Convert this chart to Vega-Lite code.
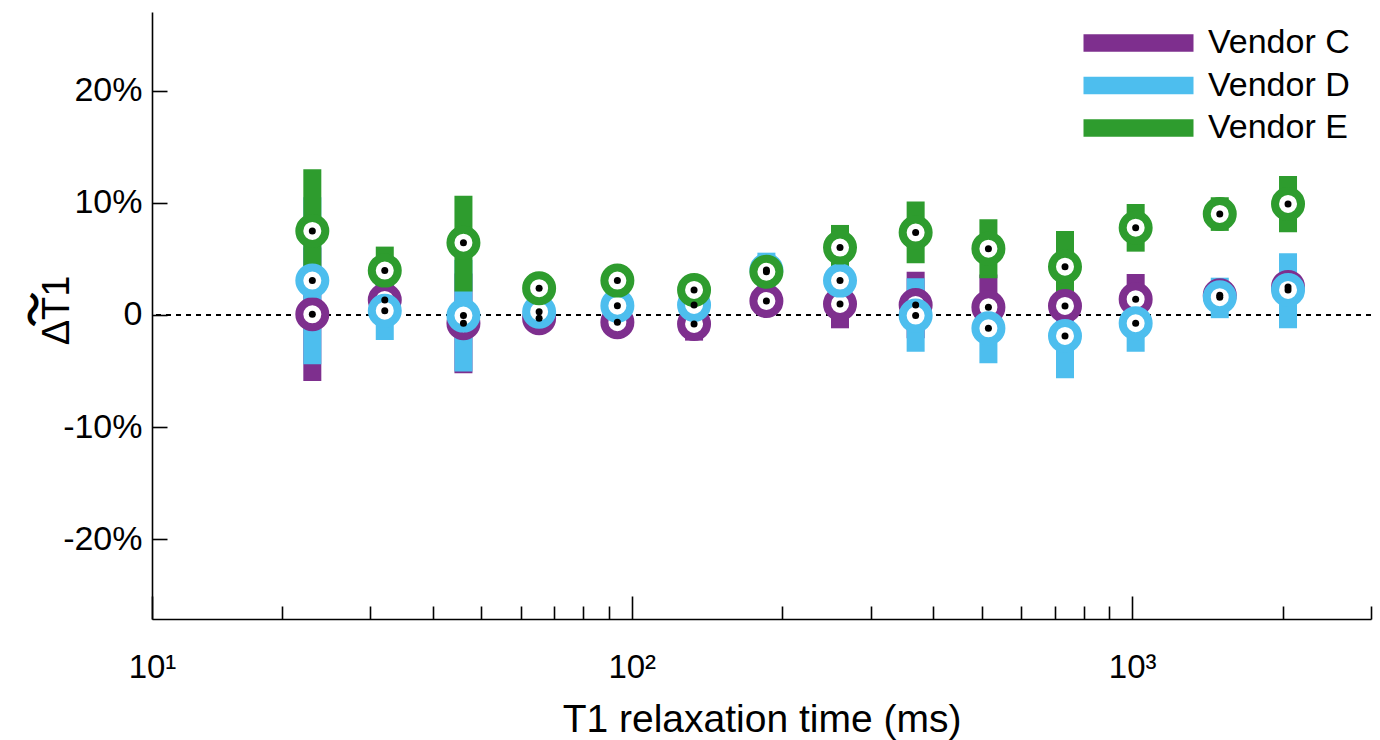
{
  "$schema": "https://vega.github.io/schema/vega-lite/v6.json",
  "width": 1219,
  "height": 607,
  "autosize": {"type": "none"},
  "padding": {"left": 152, "top": 12, "right": 9, "bottom": 121},
  "background": "white",
  "config": {
    "view": {"stroke": null},
    "font": "Liberation Sans",
    "axis": {"domainColor": "black", "tickColor": "black", "labelColor": "black", "titleColor": "black", "grid": false, "domainWidth": 1.6, "tickWidth": 1.6, "labelFont": "Liberation Sans", "titleFont": "Liberation Sans", "titleFontWeight": "normal"},
    "legend": {"labelFont": "Liberation Sans", "labelColor": "black"}
  },
  "data": {"values": [
    {"t": 23.0, "vendor": "Vendor C", "mean": 0.06, "lo": -5.88, "hi": 6.0},
    {"t": 32.1, "vendor": "Vendor C", "mean": 1.34, "lo": 0.3, "hi": 2.4},
    {"t": 46.1, "vendor": "Vendor C", "mean": -0.74, "lo": -5.2, "hi": 3.7},
    {"t": 65.3, "vendor": "Vendor C", "mean": -0.29, "lo": -1.2, "hi": 0.6},
    {"t": 93.6, "vendor": "Vendor C", "mean": -0.65, "lo": -1.5, "hi": 0.2},
    {"t": 133.2, "vendor": "Vendor C", "mean": -0.8, "lo": -2.29, "hi": 0.7},
    {"t": 185.8, "vendor": "Vendor C", "mean": 1.25, "lo": 0.3, "hi": 2.2},
    {"t": 260.7, "vendor": "Vendor C", "mean": 0.98, "lo": -1.19, "hi": 3.15},
    {"t": 369.2, "vendor": "Vendor C", "mean": 0.89, "lo": -2.08, "hi": 3.86},
    {"t": 516, "vendor": "Vendor C", "mean": 0.69, "lo": -2.2, "hi": 3.6},
    {"t": 734, "vendor": "Vendor C", "mean": 0.8, "lo": -0.4, "hi": 2.0},
    {"t": 1016, "vendor": "Vendor C", "mean": 1.4, "lo": -0.85, "hi": 3.65},
    {"t": 1496, "vendor": "Vendor C", "mean": 1.75, "lo": 0.8, "hi": 2.7},
    {"t": 2048, "vendor": "Vendor C", "mean": 2.5, "lo": 1.5, "hi": 3.5},
    {"t": 23.0, "vendor": "Vendor D", "mean": 3.06, "lo": -4.39, "hi": 10.5},
    {"t": 32.1, "vendor": "Vendor D", "mean": 0.38, "lo": -2.23, "hi": 2.99},
    {"t": 46.1, "vendor": "Vendor D", "mean": -0.06, "lo": -5.05, "hi": 4.9},
    {"t": 65.3, "vendor": "Vendor D", "mean": 0.29, "lo": -0.5, "hi": 1.1},
    {"t": 93.6, "vendor": "Vendor D", "mean": 0.83, "lo": 0.0, "hi": 1.7},
    {"t": 133.2, "vendor": "Vendor D", "mean": 0.89, "lo": 0.1, "hi": 1.7},
    {"t": 185.8, "vendor": "Vendor D", "mean": 4.0, "lo": 2.45, "hi": 5.55},
    {"t": 260.7, "vendor": "Vendor D", "mean": 3.06, "lo": 1.9, "hi": 4.2},
    {"t": 369.2, "vendor": "Vendor D", "mean": -0.06, "lo": -3.27, "hi": 3.27},
    {"t": 516, "vendor": "Vendor D", "mean": -1.19, "lo": -4.3, "hi": 1.9},
    {"t": 734, "vendor": "Vendor D", "mean": -1.87, "lo": -5.64, "hi": 1.9},
    {"t": 1016, "vendor": "Vendor D", "mean": -0.74, "lo": -3.27, "hi": 1.8},
    {"t": 1496, "vendor": "Vendor D", "mean": 1.58, "lo": -0.29, "hi": 3.32},
    {"t": 2048, "vendor": "Vendor D", "mean": 2.23, "lo": -1.19, "hi": 5.5},
    {"t": 23.0, "vendor": "Vendor E", "mean": 7.49, "lo": 1.99, "hi": 12.99},
    {"t": 32.1, "vendor": "Vendor E", "mean": 3.95, "lo": 1.81, "hi": 6.09},
    {"t": 46.1, "vendor": "Vendor E", "mean": 6.44, "lo": 2.08, "hi": 10.63},
    {"t": 65.3, "vendor": "Vendor E", "mean": 2.38, "lo": 1.6, "hi": 3.2},
    {"t": 93.6, "vendor": "Vendor E", "mean": 3.06, "lo": 2.2, "hi": 3.9},
    {"t": 133.2, "vendor": "Vendor E", "mean": 2.23, "lo": 1.4, "hi": 3.0},
    {"t": 185.8, "vendor": "Vendor E", "mean": 3.85, "lo": 2.8, "hi": 4.9},
    {"t": 260.7, "vendor": "Vendor E", "mean": 6.0, "lo": 3.98, "hi": 8.02},
    {"t": 369.2, "vendor": "Vendor E", "mean": 7.34, "lo": 4.61, "hi": 10.1},
    {"t": 516, "vendor": "Vendor E", "mean": 5.91, "lo": 3.27, "hi": 8.53},
    {"t": 734, "vendor": "Vendor E", "mean": 4.3, "lo": 1.1, "hi": 7.49},
    {"t": 1016, "vendor": "Vendor E", "mean": 7.78, "lo": 5.64, "hi": 9.89},
    {"t": 1496, "vendor": "Vendor E", "mean": 9.0, "lo": 7.49, "hi": 10.49},
    {"t": 2048, "vendor": "Vendor E", "mean": 9.89, "lo": 7.37, "hi": 12.39}
  ]},
  "layer": [
    {
      "mark": {"type": "rule", "strokeDash": [5, 5], "strokeWidth": 2, "color": "black"},
      "encoding": {
        "y": {"datum": 0, "type": "quantitative", "scale": {"domain": [-27.1, 27.0], "nice": false, "zero": false}, "axis": null}
      }
    },
    {
      "mark": {"type": "bar", "size": 18, "opacity": 1, "strokeWidth": 0},
      "encoding": {
        "x": {"field": "t", "type": "quantitative", "scale": {"type": "log", "domain": [11, 3000], "nice": false, "padding": 0},
          "axis": {"orient": "bottom", "values": [11, 100, 1000], "labelExpr": "datum.value < 50 ? '10¹' : (datum.value < 500 ? '10²' : '10³')", "tickSize": -23, "labelPadding": 81, "labelBaseline": "alphabetic", "labelFontSize": 33, "labelFlush": false, "labelOverlap": false, "title": "T1 relaxation time (ms)", "titleFontSize": 39, "titleX": 609.5, "titleY": 112, "titleBaseline": "alphabetic", "titleAlign": "center"}},
        "y": {"field": "lo", "type": "quantitative", "scale": {"domain": [-27.1, 27.0], "nice": false, "zero": false},
          "axis": {"orient": "left", "values": [-20, -10, 0, 10, 20], "labelExpr": "datum.value == 0 ? '0' : datum.value + '%'", "tickSize": -15, "labelPadding": 25, "labelFontSize": 34, "title": "ΔT1", "titleFontSize": 38, "titleX": -84, "titleY": 298, "titleAngle": -90, "titleBaseline": "alphabetic", "titleAlign": "center"}},
        "y2": {"field": "hi"},
        "color": {"field": "vendor", "type": "nominal",
          "scale": {"domain": ["Vendor C", "Vendor D", "Vendor E"], "range": ["#7E2F8E", "#4DBEEE", "#2E9C2E"]},
          "legend": {"orient": "none", "legendX": 931, "legendY": 14, "title": null, "symbolType": "M-5,-0.8H5V0.8H-5Z", "symbolSize": 484, "symbolStrokeWidth": 0, "symbolOffset": 38.5, "labelOffset": 52.5, "labelFontSize": 34, "labelLimit": 300, "rowPadding": 8.5, "padding": 0}}
      }
    },
    {
      "mark": {"type": "point", "shape": "circle", "filled": false, "fill": "white", "fillOpacity": 1, "strokeWidth": 8, "size": 676, "opacity": 1},
      "encoding": {
        "x": {"field": "t", "type": "quantitative",
          "axis": {"orient": "bottom", "values": [20, 30, 40, 50, 60, 70, 80, 90, 200, 300, 400, 500, 600, 700, 800, 900, 2000, 3000], "tickSize": -13, "labels": false, "domain": false, "title": null}},
        "y": {"field": "mean", "type": "quantitative",
          "axis": {"orient": "left", "domain": false, "ticks": false, "labels": false, "title": "〜", "titleFont": "Noto Sans CJK JP", "titleFontSize": 36, "titleFontWeight": "bold", "titleX": -117, "titleY": 297, "titleAngle": -90, "titleBaseline": "middle", "titleAlign": "center"}},
        "color": {"field": "vendor", "type": "nominal", "legend": null}
      }
    },
    {
      "mark": {"type": "point", "shape": "circle", "filled": true, "color": "black", "size": 49, "opacity": 1},
      "encoding": {
        "x": {"field": "t", "type": "quantitative", "axis": null},
        "y": {"field": "mean", "type": "quantitative", "axis": null}
      }
    }
  ],
  "resolve": {"axis": {"x": "independent", "y": "independent"}}
}
